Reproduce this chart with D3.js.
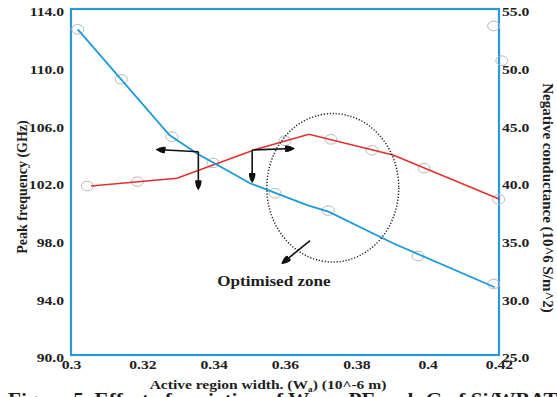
<!DOCTYPE html>
<html>
<head>
<meta charset="utf-8">
<script src="https://cdn.jsdelivr.net/npm/d3@7"></script>
<style>
  body { margin: 0; background: #fff; }
  svg { display: block; }
  text { font-family: "Liberation Serif", "Times New Roman", serif; font-weight: bold; fill: #1e1e1e; }
</style>
</head>
<body>
<div id="viz"></div>
<script>
var width = 557;
var height = 397;

var plot = { left: 71, top: 9, right: 499, bottom: 355 };

// tick labels
var widthTicks = [0.3, 0.32, 0.34, 0.36, 0.38, 0.4, 0.42];
var freqTicks = [90, 94, 98, 102, 106, 110, 114];
var condTicks = [25, 30, 35, 40, 45, 50, 55];

// peak frequency (GHz) vs active region width, left axis
var freqW   = [0.3019, 0.3276, 0.3352, 0.3502, 0.3662, 0.3722, 0.3903, 0.4188];
var freqGHz = [112.59, 105.26, 103.99, 101.91, 100.40, 99.94, 97.75, 94.70];

// negative conductance (10^6 S/m^2), right axis
var condW = [0.3056, 0.3297, 0.3517, 0.3667, 0.3903, 0.42];
var condG = [39.65, 40.32, 42.82, 44.14, 42.34, 38.53];

// hollow grey markers (they sit a bit off the lines in the original)
var freqMarkW   = [0.3019, 0.3141, 0.3283, 0.3398, 0.3572, 0.3721, 0.3973, 0.4185];
var freqMarkGHz = [112.59, 109.12, 105.14, 103.32, 101.22, 100.02, 96.87, 94.92];
var condMarkW = [0.3046, 0.3186, 0.3600, 0.3729, 0.3844, 0.3990, 0.4199, 0.4185, 0.4208];
var condMarkG = [39.65, 40.03, 43.58, 43.70, 42.75, 41.20, 38.50, 53.53, 50.52];

var x = d3.scaleLinear().domain([0.3, 0.42]).range([plot.left, plot.right]);
var yL = d3.scaleLinear().domain([90, 114]).range([plot.bottom, plot.top]);
var yR = d3.scaleLinear().domain([25, 55]).range([plot.bottom, plot.top]);

var svg = d3.select('#viz').append('svg')
  .attr('width', width)
  .attr('height', height);

svg.append('rect').attr('width', width).attr('height', height).attr('fill', '#fff');

svg.append('defs').append('marker')
  .attr('id', 'head')
  .attr('viewBox', '0 0 10 8')
  .attr('markerUnits', 'userSpaceOnUse')
  .attr('markerWidth', 10)
  .attr('markerHeight', 8)
  .attr('refX', 9)
  .attr('refY', 4)
  .attr('orient', 'auto')
  .append('path')
  .attr('d', 'M0,1 Q4,0 10,4 Q4,8 0,7 Z')
  .attr('fill', '#111');

// stretch text horizontally, the source image is a bit wide
function stretch(sel, k) {
  sel.each(function () {
    var len = this.getComputedTextLength();
    d3.select(this).attr('textLength', len * k).attr('lengthAdjust', 'spacingAndGlyphs');
  });
}

// axes (no tick marks, labels only)
var fmt1 = d3.format('.1f');

var gL = svg.append('g')
  .attr('transform', 'translate(' + plot.left + ',0)')
  .call(d3.axisLeft(yL).tickValues(freqTicks).tickSize(0).tickPadding(7).tickFormat(fmt1));
var gR = svg.append('g')
  .attr('transform', 'translate(' + plot.right + ',0)')
  .call(d3.axisRight(yR).tickValues(condTicks).tickSize(0).tickPadding(3).tickFormat(fmt1));
var gB = svg.append('g')
  .attr('transform', 'translate(0,' + plot.bottom + ')')
  .call(d3.axisBottom(x).tickValues(widthTicks).tickSize(0).tickPadding(5).tickFormat(d3.format('')));

[gL, gR, gB].forEach(function (g) {
  g.select('.domain').remove();
  g.selectAll('text')
    .attr('font-family', null)
    .style('font-size', '12.5px')
    .attr('fill', '#1e1e1e');
  stretch(g.selectAll('text'), 1.25);
});
gL.selectAll('.tick text').attr('dy', '0.55em');
gR.selectAll('.tick text').attr('dy', '0.55em');

// plot frame
svg.append('rect')
  .attr('x', plot.left)
  .attr('y', plot.top)
  .attr('width', plot.right - plot.left)
  .attr('height', plot.bottom - plot.top)
  .attr('fill', 'none')
  .attr('stroke', '#2a9ad6')
  .attr('stroke-width', 2.2);

// markers
function ellipses(ws, vs, scale) {
  svg.append('g').selectAll('ellipse')
    .data(ws).enter()
    .append('ellipse')
    .attr('cx', function (d) { return x(d); })
    .attr('cy', function (d, i) { return scale(vs[i]); })
    .attr('rx', 6)
    .attr('ry', 4.8)
    .attr('fill', 'none')
    .attr('stroke', '#b9b9b9')
    .attr('stroke-width', 1);
}
ellipses(freqMarkW, freqMarkGHz, yL);
ellipses(condMarkW, condMarkG, yR);

// lines
var freqLine = d3.line()
  .x(function (d) { return x(d); })
  .y(function (d, i) { return yL(freqGHz[i]); });
var condLine = d3.line()
  .x(function (d) { return x(d); })
  .y(function (d, i) { return yR(condG[i]); });

svg.append('path')
  .attr('d', condLine(condW))
  .attr('fill', 'none')
  .attr('stroke', '#e0302e')
  .attr('stroke-width', 1.6);

svg.append('path')
  .attr('d', freqLine(freqW))
  .attr('fill', 'none')
  .attr('stroke', '#1d9ad8')
  .attr('stroke-width', 1.8);

// arrows pointing each curve at its axis
function arrow(x1, y1, x2, y2) {
  svg.append('line')
    .attr('x1', x1).attr('y1', y1)
    .attr('x2', x2).attr('y2', y2)
    .attr('stroke', '#111')
    .attr('stroke-width', 1.6)
    .attr('marker-end', 'url(#head)');
}
arrow(x(0.3357), yL(104.1), x(0.3240), yL(104.25));
arrow(x(0.3357), yL(104.1), x(0.3357), yL(101.5));
arrow(x(0.3508), yR(42.78), x(0.3625), yR(42.9));
arrow(x(0.3508), yR(42.78), x(0.3508), yR(40.0));

// optimised zone
var zoneW = 0.3734, zoneF = 101.6;
svg.append('ellipse')
  .attr('cx', x(zoneW))
  .attr('cy', yL(zoneF))
  .attr('rx', x(zoneW + 0.0185) - x(zoneW))
  .attr('ry', yL(zoneF) - yL(zoneF + 5.15))
  .attr('fill', 'none')
  .attr('stroke', '#222')
  .attr('stroke-width', 1.5)
  .attr('stroke-dasharray', '1.2,1.8');

arrow(x(0.3670), yL(97.93), x(0.3592), yL(96.36));

var zoneLabel = svg.append('text')
  .attr('x', x(0.3569))
  .attr('y', yL(94.8))
  .attr('text-anchor', 'middle')
  .style('font-size', '14px')
  .text('Optimised zone');
stretch(zoneLabel, 1.22);

// axis titles
svg.append('text')
  .attr('transform', 'translate(27,187) rotate(-90)')
  .attr('text-anchor', 'middle')
  .style('font-size', '14px')
  .text('Peak frequency (GHz)');

svg.append('text')
  .attr('transform', 'translate(543,198) rotate(90)')
  .attr('text-anchor', 'middle')
  .style('font-size', '15px')
  .text('Negative conductance (10^6 S/m^2)');

var xTitle = svg.append('text')
  .attr('x', 268)
  .attr('y', 389)
  .attr('text-anchor', 'middle')
  .style('font-size', '13.5px');
xTitle.append('tspan').text('Active region width. (W');
xTitle.append('tspan').attr('dy', 3).style('font-size', '8px').text('a');
xTitle.append('tspan').attr('dy', -3).text(') (10^-6 m)');
stretch(xTitle, 1.15);

// caption, cut off by the bottom edge
var caption = svg.append('text')
  .attr('x', 8)
  .attr('y', 406)
  .style('font-size', '19px');
caption.append('tspan').text('Figure 5. Effect of variation of W');
caption.append('tspan').attr('dy', 4).style('font-size', '11px').text('a');
caption.append('tspan').attr('dy', -4).text(' on PF and -G of Si/WBATT');
stretch(caption, 1.12);
</script>
</body>
</html>
